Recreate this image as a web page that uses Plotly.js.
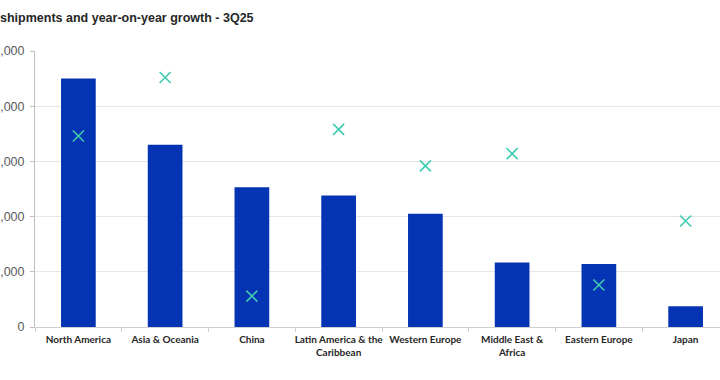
<!DOCTYPE html>
<html>
<head>
<meta charset="utf-8">
<script src="https://cdn.plot.ly/plotly-3.0.1.min.js"></script>
<style>
  html, body { margin: 0; padding: 0; overflow: hidden; background: #fff; width: 720px; height: 380px; }
  #chart { width: 780px; height: 380px; }
</style>
</head>
<body>
<div id="chart"></div>
<script>
// Data
const regions = ["North America", "Asia & Oceania", "China", "Latin America & the Caribbean",
                 "Western Europe", "Middle East & Africa", "Eastern Europe", "Japan"];
const regionLabels = ["North America", "Asia & Oceania", "China", "Latin America & the<br>Caribbean",
                      "Western Europe", "Middle East &<br>Africa", "Eastern Europe", "Japan"];
const shipments = [4500, 3300, 2530, 2380, 2050, 1170, 1140, 375];
const yoyGrowth = [17.3, 22.6, 2.8, 17.9, 14.6, 15.7, 3.8, 9.6];
const yTickVals = [0, 1000, 2000, 3000, 4000, 5000];
const yTickText = ["0", ",000", ",000", ",000", ",000", ",000"];
const titleText = "shipments and year-on-year growth - 3Q25";

const traces = [
  {
    type: "bar",
    x: regions,
    y: shipments,
    name: "Shipments",
    marker: { color: "#0434B4" },
    width: 0.4,
    hoverinfo: "x+y"
  },
  {
    type: "scatter",
    mode: "markers",
    x: regions,
    y: yoyGrowth,
    yaxis: "y2",
    name: "YoY growth",
    marker: { symbol: "x-thin-open", size: 11, color: "#3DCCB0", line: { width: 1.6, color: "#3DCCB0" } },
    hoverinfo: "x+y"
  }
];

const layout = {
  width: 780,
  height: 380,
  margin: { l: 35, r: 51, t: 51.3, b: 53.3, pad: 0 },
  paper_bgcolor: "#ffffff",
  plot_bgcolor: "#ffffff",
  showlegend: false,
  font: { family: "Lato, 'Liberation Sans', Arial, sans-serif", color: "#262626" },
  title: {
    text: titleText,
    x: 0, xref: "container", xanchor: "left",
    y: 1 - 17.5 / 380, yref: "container", yanchor: "middle",
    font: { family: "'Liberation Sans', Arial, sans-serif", size: 12.5, weight: "bold", color: "#262626" }
  },
  xaxis: {
    type: "category",
    tickvals: regions,
    ticktext: regionLabels,
    tickangle: 0,
    showline: true,
    linecolor: "#d0d0d0",
    linewidth: 1,
    ticks: "outside",
    tickson: "boundaries",
    ticklen: 4,
    tickcolor: "#d0d0d0",
    ticklabelstandoff: 3,
    showgrid: false,
    tickfont: { family: "Lato, 'Liberation Sans', Arial, sans-serif", size: 10, weight: "bold", color: "#262626" },
    fixedrange: true
  },
  yaxis: {
    range: [0, 5000],
    tickvals: yTickVals,
    ticktext: yTickText,
    showline: true,
    linecolor: "#bfbfbf",
    linewidth: 1,
    ticks: "outside",
    ticklen: 4,
    tickcolor: "#bfbfbf",
    ticklabelstandoff: 3,
    showgrid: true,
    gridcolor: "#e6e6e6",
    gridwidth: 1,
    zeroline: false,
    tickfont: { family: "'Liberation Sans', Arial, sans-serif", size: 12.5, color: "#595959" },
    fixedrange: true
  },
  yaxis2: {
    range: [0, 25],
    overlaying: "y",
    side: "right",
    showgrid: false,
    zeroline: false,
    showline: false,
    showticklabels: false,
    fixedrange: true
  }
};

Plotly.newPlot("chart", traces, layout, { displayModeBar: false, staticPlot: true });
</script>
</body>
</html>
